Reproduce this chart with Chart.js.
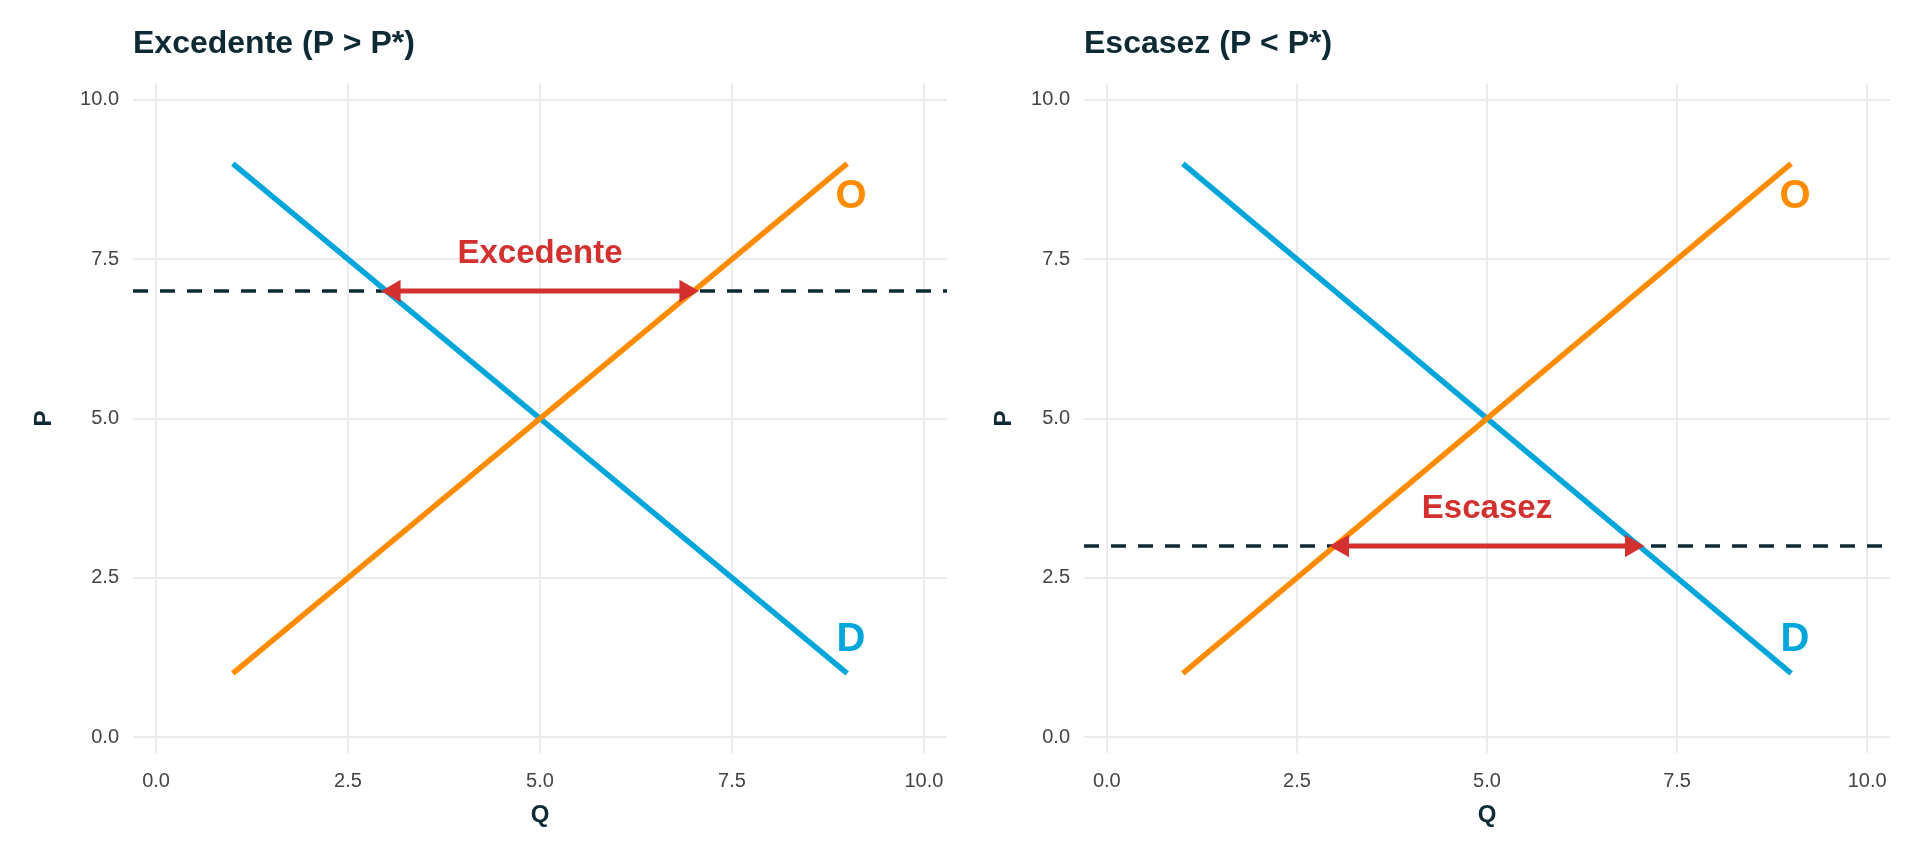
<!DOCTYPE html>
<html><head><meta charset="utf-8">
<script src="https://cdn.jsdelivr.net/npm/chart.js@4"></script>
<style>
body{margin:0;background:#fff;width:1920px;height:864px;overflow:hidden;display:flex}
.box{width:960px;height:864px;position:relative}
</style></head><body>
<div class="box"><canvas id="c1"></canvas></div>
<div class="box"><canvas id="c2"></canvas></div>
<script>
// curves
const demandQ = [1, 9];
const demandP = [9, 1];
const supplyQ = [1, 9];
const supplyP = [1, 9];
// price lines + gaps
const panelTitles = ['Excedente (P > P*)', 'Escasez (P < P*)'];
const gapNames = ['Excedente', 'Escasez'];
const priceLevels = [7, 3];
const gapFrom = [3, 3];
const gapTo = [7, 7];
const gapLabelP = [7.58, 3.58];
const axisTicks = [0, 2.5, 5, 7.5, 10];

const BLUE = '#00A6DA', ORANGE = '#FF8C00', RED = '#D3312F', DARK = '#0E2A35';

const textPlugin = {
  id: 'texts',
  afterDatasetsDraw(chart, args, o) {
    const ctx = chart.ctx, x = chart.scales.x, y = chart.scales.y;
    ctx.save();
    ctx.textAlign = 'center'; ctx.textBaseline = 'middle';
    ctx.font = 'bold 33px "Liberation Sans", Arial';
    ctx.fillStyle = RED;
    ctx.fillText(o.gap, x.getPixelForValue(5), y.getPixelForValue(o.gapP));
    ctx.font = 'bold 40px "Liberation Sans", Arial';
    ctx.fillStyle = ORANGE;
    ctx.fillText('O', x.getPixelForValue(9.05), y.getPixelForValue(8.48));
    ctx.fillStyle = BLUE;
    ctx.fillText('D', x.getPixelForValue(9.05), y.getPixelForValue(1.52));
    ctx.textAlign = 'left';
    ctx.font = 'bold 32px "Liberation Sans", Arial';
    ctx.fillStyle = DARK;
    ctx.fillText(o.title, chart.chartArea.left, 44);
    ctx.restore();
  }
};

function build(id, i, padRight, yWidth) {
  const pts = (qs, ps) => qs.map((q, k) => ({x: q, y: ps[k]}));
  new Chart(document.getElementById(id), {
    type: 'scatter',
    data: {datasets: [
      {data: [{x: -0.3, y: priceLevels[i]}, {x: 10.3, y: priceLevels[i]}], showLine: true, order: 4,
       borderColor: DARK, borderWidth: 3.5, borderDash: [15, 12], pointRadius: 0},
      {data: pts(demandQ, demandP), showLine: true, order: 3, borderColor: BLUE, borderWidth: 5.5, pointRadius: 0},
      {data: pts(supplyQ, supplyP), showLine: true, order: 2, borderColor: ORANGE, borderWidth: 5.5, pointRadius: 0},
      {data: [{x: gapFrom[i] + 0.1, y: priceLevels[i]}, {x: gapTo[i] - 0.1, y: priceLevels[i]}], showLine: true, order: 1,
       borderColor: RED, borderWidth: 5, borderDash: [], pointStyle: 'triangle', pointRadius: 8,
       pointRotation: [-90, 90], backgroundColor: RED, pointBackgroundColor: RED, pointBorderColor: RED}
    ]},
    options: {
      responsive: false, animation: false, clip: false,
      layout: {padding: {top: 84, right: padRight, left: 0, bottom: 0}},
      plugins: {legend: {display: false}, tooltip: {enabled: false},
        texts: {title: panelTitles[i], gap: gapNames[i], gapP: gapLabelP[i]}},
      scales: {
        x: {type: 'linear', min: -0.3, max: 10.3,
          afterBuildTicks: s => { s.ticks = axisTicks.map(v => ({value: v})); },
          afterFit: s => { s.height = 111; },
          border: {display: false},
          grid: {color: '#EBEBEB', lineWidth: 2, drawTicks: false},
          ticks: {padding: 16, color: '#444', font: {size: 20, family: '"Liberation Sans", Arial'},
            callback: v => v.toFixed(1)},
          title: {display: true, text: 'Q', color: DARK, padding: {top: 0, bottom: 34},
            font: {size: 24, weight: 'bold', family: '"Liberation Sans", Arial'}}},
        y: {type: 'linear', min: -0.25, max: 10.25,
          afterBuildTicks: s => { s.ticks = axisTicks.map(v => ({value: v})); },
          afterFit: s => { s.width = yWidth; },
          border: {display: false},
          grid: {color: '#EBEBEB', lineWidth: 2, drawTicks: false},
          ticks: {padding: 14, color: '#444', font: {size: 20, family: '"Liberation Sans", Arial'},
            callback: v => v.toFixed(1)},
          title: {display: true, text: 'P', color: DARK, padding: {top: 30},
            font: {size: 24, weight: 'bold', family: '"Liberation Sans", Arial'}}}
      }
    },
    plugins: [textPlugin]
  });
}
document.getElementById('c1').width = 960; document.getElementById('c1').height = 864;
document.getElementById('c2').width = 960; document.getElementById('c2').height = 864;
build('c1', 0, 12, 133);
build('c2', 1, 30, 124);
</script></body></html>
